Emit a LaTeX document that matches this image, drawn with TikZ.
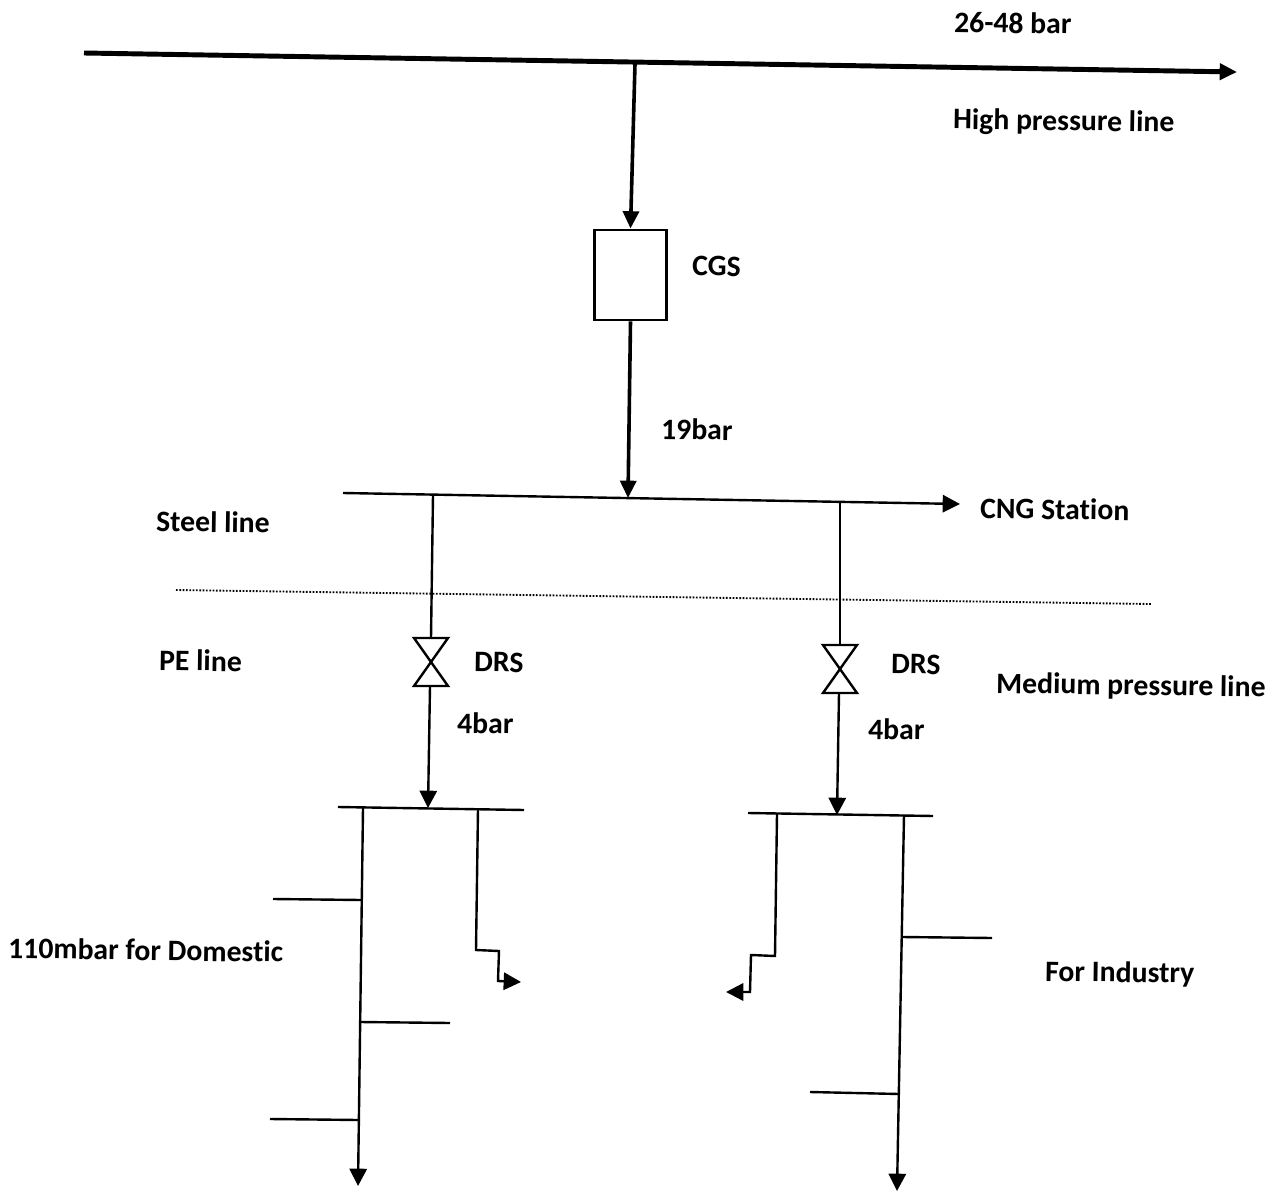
\documentclass[tikz,border=0pt]{standalone}
\usepackage{fontspec}
\setmainfont{Carlito}[Ligatures=NoCommon]
\usetikzlibrary{arrows.meta}
\tikzset{
  x=0.75pt,y=-0.75pt,
  lbl/.style={font=\bfseries\fontsize{22.3}{25}\selectfont,text=black,inner sep=0pt,rotate=-0.8,anchor=west},
  thick pipe/.style={line width=3.7pt,-{Triangle[length=13pt,width=12pt]}},
  mid pipe/.style={line width=2.7pt,-{Triangle[length=13pt,width=12pt]}},
  pipe/.style={line width=1.8pt},
  arrowpipe/.style={line width=1.8pt,-{Triangle[length=13pt,width=13pt]}},
  valvetri/.style={draw,line width=1.8pt,line join=miter,fill=white},
  cgsbox/.style={draw,line width=1.7pt,fill=white,inner sep=0pt,minimum width=54pt,minimum height=68pt},
  sep/.style={line width=1.4pt,dash pattern=on 1.3pt off 1.2pt}
}
\begin{document}
\begin{tikzpicture}
\useasboundingbox (0,0) rectangle (1282,1191);
% high pressure line
\coordinate (hpS) at (84,53);
\coordinate (hpE) at (1237,72);
\coordinate (hpT) at (635,64);
\draw[thick pipe] (hpS) -- (hpE);
\node[cgsbox] (cgs) at (630.5,275) {};
\draw[mid pipe] (hpT) -- (cgs.north);
% steel line
\coordinate (stS) at (343,493);
\coordinate (stE) at (960,504);
\coordinate (stT) at (628,498);
\coordinate (stL) at (433,495);
\coordinate (stR) at (840,502);
\draw[arrowpipe] (stS) -- (stE);
\draw[mid pipe] (cgs.south) -- (stT);
% dotted
\coordinate (sepS) at (176,590);
\coordinate (sepE) at (1151,604);
\draw[sep] (sepS) -- (sepE);
% left DRS
\coordinate (vL) at (431,662);
\coordinate (vLt) at (431,638);
\coordinate (vLb) at (430,686);
\draw[valvetri] (414,638) -- (448,638) -- (vL) -- cycle;
\draw[valvetri] (414,686) -- (448,686) -- (vL) -- cycle;
\draw[pipe] (stL) -- (vLt);
% right DRS
\coordinate (vR) at (840,669);
\coordinate (vRt) at (840,645);
\coordinate (vRb) at (839,693);
\draw[valvetri] (823,645) -- (857,645) -- (vR) -- cycle;
\draw[valvetri] (823,693) -- (857,693) -- (vR) -- cycle;
\draw[pipe] (stR) -- (vRt);
% left medium header
\coordinate (lhS) at (338,807);
\coordinate (lhE) at (524,810);
\coordinate (lhT) at (428,808);
\draw[pipe] (lhS) -- (lhE);
\draw[arrowpipe] (vLb) -- (lhT);
% right header
\coordinate (rhS) at (748,813);
\coordinate (rhE) at (933,816);
\coordinate (rhT) at (837,815);
\draw[pipe] (rhS) -- (rhE);
\draw[arrowpipe] (vRb) -- (rhT);
% left distribution
\coordinate (ldS) at (363,808);
\coordinate (ldE) at (358,1186);
\draw[arrowpipe] (ldS) -- (ldE);
\draw[pipe] (273,899) -- (361,900);
\draw[pipe] (360,1022) -- (450,1023);
\draw[pipe] (270,1119) -- (358,1120);
\coordinate (lsS) at (478,809);
\coordinate (lsE) at (521,982);
\draw[arrowpipe,line join=miter] (lsS) -- (476,950) -- (499,951) -- (498,981) -- (lsE);
% right distribution
\coordinate (rdS) at (904,815);
\coordinate (rdE) at (897,1191);
\draw[arrowpipe] (rdS) -- (rdE);
\draw[pipe] (902,937) -- (992,938);
\draw[pipe] (810,1092) -- (899,1094);
\coordinate (rsS) at (777,814);
\coordinate (rsE) at (726,992);
\draw[arrowpipe,line join=miter] (rsS) -- (775,956) -- (751,955) -- (750,992) -- (rsE);
% labels
\node[lbl] (t1) at (954,22) {26-48 bar};
\node[lbl] (t2) at (953,121) {High pressure line};
\node[lbl] (t3) at (692,266) {CGS};
\node[lbl] (t4) at (661,429) {19bar};
\node[lbl] (t5) at (156,521) {Steel line};
\node[lbl] (t6) at (980,508) {CNG Station};
\node[lbl] (t7) at (159,660) {PE line};
\node[lbl] (t8) at (474,662) {DRS};
\node[lbl] (t9) at (891,664) {DRS};
\node[lbl] (t10) at (996,685) {Medium pressure line};
\node[lbl] (t11) at (457,723) {4bar};
\node[lbl] (t12) at (868,729) {4bar};
\node[lbl] (t13) at (8,948) {110mbar for Domestic};
\node[lbl] (t14) at (1045,973) {For Industry};
\end{tikzpicture}
\end{document}
